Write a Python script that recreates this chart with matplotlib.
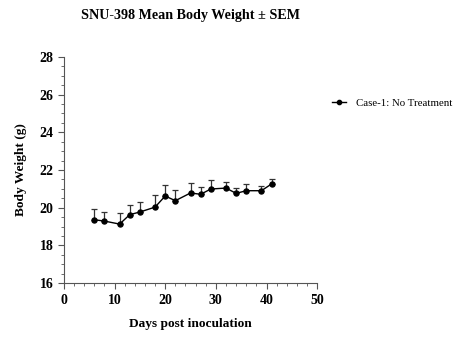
import matplotlib
matplotlib.use("Agg")
import matplotlib.pyplot as plt
from matplotlib.ticker import MultipleLocator

# Days post inoculation and mean body weight (g) with SEM
days = [6, 8, 11, 13, 15, 18, 20, 22, 25, 27, 29, 32, 34, 36, 39, 41]
weight = [19.36, 19.29, 19.13, 19.63, 19.77, 20.03, 20.62, 20.37, 20.78, 20.71,
          20.99, 21.04, 20.76, 20.90, 20.90, 21.26]
sem = [0.57, 0.46, 0.60, 0.50, 0.53, 0.64, 0.60, 0.55, 0.55, 0.39,
       0.48, 0.30, 0.27, 0.35, 0.27, 0.27]

plt.rcParams['font.family'] = ['Liberation Serif', 'DejaVu Serif']

fig = plt.figure(figsize=(4.63, 3.53), dpi=100)
ax = fig.add_axes([0.138, 0.198, 0.547, 0.641])

# one-sided (upper) error bars
ax.errorbar(days, weight, yerr=[[0] * len(sem), sem], fmt='none',
            ecolor='#333333', elinewidth=0.9, capsize=2.5, capthick=0.9)
ax.plot(days, weight, color='black', linewidth=1.0, marker='o',
        markersize=3.6, label='Case-1: No Treatment')

ax.set_xlim(0, 50)
ax.set_ylim(16, 28)
ax.xaxis.set_major_locator(MultipleLocator(10))
ax.xaxis.set_minor_locator(MultipleLocator(2))
ax.yaxis.set_major_locator(MultipleLocator(2))
ax.yaxis.set_minor_locator(MultipleLocator(0.5))

for side in ['top', 'right']:
    ax.spines[side].set_visible(False)
for side in ['left', 'bottom']:
    ax.spines[side].set_color('#555555')
    ax.spines[side].set_linewidth(0.8)
ax.tick_params(which='major', length=4, width=0.8, color='#555555', labelsize=10)
ax.tick_params(which='minor', length=2, width=0.6, color='#555555')
for lab in ax.get_xticklabels() + ax.get_yticklabels():
    lab.set_fontweight('bold')

ax.set_xlabel('Days post inoculation', fontsize=9.6, fontweight='bold', labelpad=8)
ax.set_ylabel('Body Weight (g)', fontsize=9.6, fontweight='bold', labelpad=9)
ax.set_title('SNU-398 Mean Body Weight ± SEM', fontsize=10.2, fontweight='bold', pad=27)

ax.legend(loc='center left', bbox_to_anchor=(1.02, 0.796), frameon=False,
          fontsize=7.8, handlelength=1.3, handletextpad=0.9, markerscale=0.85)

fig.savefig('out.png', dpi=100)
